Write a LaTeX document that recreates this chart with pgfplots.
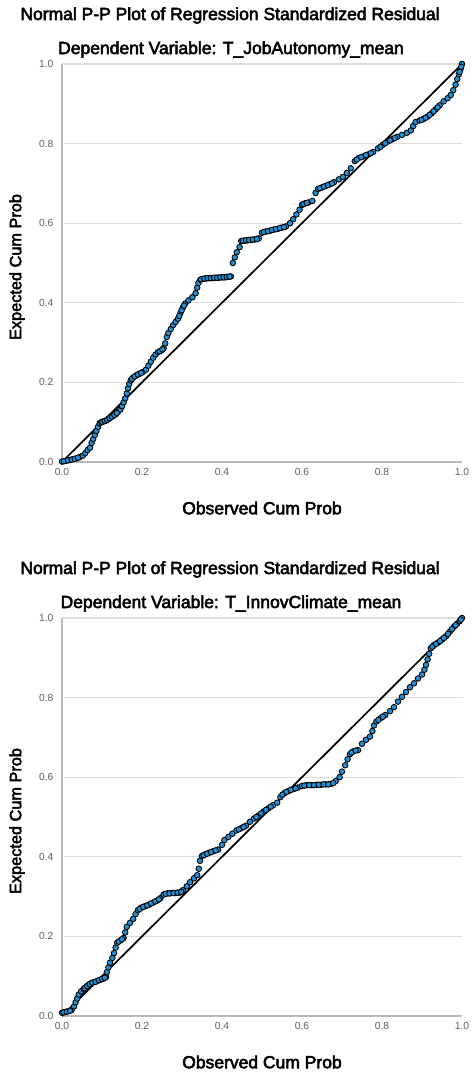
\documentclass[border=0pt]{standalone}
\usepackage{pgfplots}
\pgfplotsset{compat=1.18}
\usepackage{fontspec}
\setmainfont{Liberation Sans}
\newfontfamily\heavy[FakeBold=3]{Liberation Sans}
\definecolor{ptblue}{RGB}{34,144,214}
\definecolor{axgray}{RGB}{185,185,185}
\definecolor{gridgray}{RGB}{220,220,220}
\definecolor{tickgray}{RGB}{95,95,95}

\pgfplotstableread{
x y
0.000 0.001
0.010 0.003
0.020 0.005
0.028 0.007
0.036 0.009
0.044 0.012
0.052 0.016
0.058 0.022
0.064 0.030
0.070 0.036
0.074 0.048
0.078 0.058
0.082 0.068
0.086 0.078
0.090 0.088
0.094 0.097
0.098 0.100
0.104 0.102
0.110 0.104
0.116 0.108
0.122 0.112
0.128 0.116
0.134 0.120
0.140 0.126
0.146 0.132
0.150 0.140
0.154 0.150
0.158 0.160
0.162 0.172
0.165 0.185
0.168 0.196
0.172 0.205
0.178 0.212
0.186 0.218
0.194 0.222
0.202 0.226
0.210 0.232
0.216 0.242
0.222 0.252
0.228 0.262
0.234 0.270
0.240 0.276
0.248 0.280
0.254 0.286
0.258 0.298
0.262 0.314
0.266 0.324
0.272 0.334
0.278 0.344
0.284 0.352
0.290 0.360
0.296 0.374
0.302 0.388
0.308 0.398
0.316 0.406
0.326 0.414
0.334 0.424
0.338 0.438
0.341 0.450
0.346 0.458
0.352 0.460
0.360 0.461
0.368 0.462
0.376 0.462
0.384 0.463
0.392 0.463
0.400 0.464
0.408 0.464
0.416 0.465
0.422 0.466
0.427 0.500
0.432 0.514
0.437 0.527
0.444 0.540
0.448 0.555
0.456 0.556
0.464 0.557
0.472 0.558
0.482 0.559
0.492 0.562
0.500 0.576
0.510 0.579
0.520 0.581
0.530 0.584
0.540 0.586
0.550 0.589
0.560 0.592
0.570 0.600
0.578 0.610
0.586 0.622
0.594 0.634
0.600 0.646
0.608 0.650
0.616 0.652
0.626 0.656
0.634 0.676
0.640 0.686
0.650 0.690
0.660 0.694
0.670 0.698
0.680 0.703
0.692 0.710
0.702 0.716
0.712 0.726
0.722 0.738
0.732 0.756
0.742 0.764
0.754 0.768
0.766 0.773
0.778 0.779
0.790 0.788
0.802 0.797
0.814 0.805
0.826 0.811
0.838 0.817
0.850 0.822
0.862 0.827
0.872 0.833
0.878 0.844
0.884 0.854
0.894 0.858
0.904 0.862
0.914 0.868
0.924 0.876
0.934 0.886
0.944 0.896
0.954 0.906
0.964 0.914
0.972 0.922
0.978 0.934
0.984 0.948
0.988 0.962
0.992 0.974
0.996 0.986
1.000 1.000
0.005 0.002
0.015 0.004
0.024 0.006
0.032 0.008
0.040 0.011
0.101 0.101
0.107 0.103
0.113 0.106
0.119 0.110
0.125 0.114
0.131 0.118
0.137 0.123
0.175 0.209
0.182 0.215
0.190 0.220
0.198 0.224
0.244 0.278
0.251 0.283
0.293 0.367
0.299 0.381
0.305 0.393
0.348 0.459
0.356 0.461
0.364 0.462
0.372 0.462
0.380 0.463
0.388 0.463
0.396 0.464
0.404 0.464
0.412 0.465
0.419 0.466
0.452 0.556
0.460 0.557
0.468 0.558
0.477 0.559
0.487 0.560
0.505 0.578
0.515 0.580
0.525 0.583
0.535 0.585
0.545 0.588
0.555 0.590
0.604 0.648
0.612 0.651
0.645 0.688
0.655 0.692
0.665 0.696
0.675 0.700
0.737 0.760
0.748 0.766
0.760 0.771
0.772 0.776
0.796 0.792
0.808 0.801
0.820 0.808
0.832 0.814
0.899 0.860
0.909 0.865
0.919 0.872
0.929 0.881
0.939 0.891
0.994 0.980
0.998 0.993
}\dataA

\pgfplotstableread{
x y
0.000 0.008
0.008 0.010
0.016 0.012
0.024 0.015
0.030 0.024
0.034 0.034
0.038 0.044
0.042 0.054
0.048 0.062
0.054 0.068
0.060 0.073
0.066 0.078
0.072 0.082
0.080 0.085
0.088 0.088
0.096 0.091
0.104 0.094
0.110 0.098
0.112 0.110
0.116 0.122
0.120 0.134
0.126 0.146
0.130 0.158
0.134 0.172
0.138 0.184
0.146 0.190
0.154 0.196
0.158 0.210
0.162 0.224
0.170 0.234
0.178 0.244
0.184 0.256
0.190 0.266
0.198 0.272
0.208 0.276
0.218 0.280
0.228 0.285
0.238 0.290
0.246 0.296
0.254 0.305
0.264 0.308
0.274 0.309
0.284 0.309
0.294 0.310
0.302 0.316
0.312 0.326
0.320 0.336
0.330 0.346
0.338 0.354
0.342 0.370
0.345 0.390
0.350 0.402
0.358 0.406
0.368 0.410
0.378 0.414
0.390 0.418
0.400 0.430
0.406 0.442
0.416 0.450
0.426 0.458
0.436 0.466
0.448 0.472
0.460 0.478
0.470 0.488
0.480 0.496
0.492 0.504
0.504 0.514
0.516 0.522
0.528 0.530
0.538 0.536
0.546 0.550
0.556 0.560
0.566 0.565
0.578 0.570
0.590 0.574
0.600 0.578
0.612 0.580
0.624 0.580
0.636 0.581
0.648 0.581
0.660 0.582
0.672 0.583
0.684 0.590
0.694 0.600
0.700 0.614
0.708 0.630
0.714 0.645
0.720 0.658
0.728 0.665
0.740 0.668
0.750 0.684
0.760 0.694
0.770 0.702
0.776 0.716
0.780 0.730
0.786 0.740
0.796 0.748
0.808 0.756
0.820 0.766
0.830 0.776
0.840 0.790
0.850 0.802
0.860 0.814
0.870 0.826
0.880 0.836
0.890 0.848
0.900 0.858
0.906 0.870
0.910 0.882
0.914 0.896
0.918 0.910
0.922 0.924
0.930 0.932
0.940 0.938
0.950 0.946
0.960 0.954
0.970 0.966
0.980 0.978
0.988 0.986
0.994 0.992
1.000 1.000
0.004 0.009
0.012 0.011
0.020 0.013
0.057 0.070
0.063 0.075
0.069 0.080
0.076 0.084
0.084 0.086
0.092 0.090
0.100 0.093
0.107 0.096
0.142 0.187
0.150 0.193
0.194 0.269
0.203 0.274
0.213 0.278
0.223 0.283
0.233 0.288
0.242 0.293
0.259 0.307
0.269 0.308
0.279 0.309
0.289 0.310
0.298 0.312
0.354 0.404
0.363 0.408
0.373 0.412
0.384 0.416
0.442 0.469
0.454 0.475
0.486 0.500
0.498 0.509
0.510 0.518
0.522 0.526
0.551 0.556
0.561 0.563
0.572 0.568
0.584 0.572
0.606 0.579
0.618 0.580
0.630 0.580
0.642 0.581
0.654 0.582
0.666 0.582
0.678 0.585
0.724 0.662
0.734 0.667
0.791 0.744
0.802 0.752
0.926 0.928
0.935 0.935
0.945 0.942
0.955 0.950
0.965 0.960
0.975 0.972
0.984 0.982
0.997 0.996
}\dataB

\pgfplotsset{
  ppstyle/.style={
    scale only axis, width=400pt, height=398pt,
    xmin=0, xmax=1, ymin=0, ymax=1,
    clip=false,
    axis x line*=bottom, axis y line*=left,
    axis line style={draw=axgray, line width=1.2pt, -},
    xtick={0,0.2,...,1.0}, ytick={0,0.2,...,1.0},
    ymajorgrids, grid style={gridgray, line width=1.2pt},
    major tick length=0pt,
    tick label style={font=\fontsize{10.3}{11}\selectfont, text=tickgray},
    xticklabel style={yshift=-3pt},
    yticklabel style={xshift=-5pt},
    /pgf/number format/.cd, fixed, fixed zerofill, precision=1, assume math mode=true,
    /pgfplots/.cd,
    xlabel={Observed Cum Prob},
    ylabel={Expected Cum Prob},
    every axis x label/.style={at={(axis description cs:0.5,-0.1156)}, anchor=center, font=\heavy\fontsize{17.5}{18}\selectfont},
    every axis y label/.style={at={(axis description cs:-0.1125,0.49)}, anchor=center, rotate=90, font=\heavy\fontsize{16.3}{17}\selectfont},
  },
  ppmarks/.style={only marks, mark=*, mark size=2.8pt, mark options={fill=ptblue, draw=black, line width=0.85pt}},
}

\begin{document}
\begin{tikzpicture}[x=1pt,y=1pt]
\useasboundingbox (0,0) rectangle (473,1074);
\begin{axis}[ppstyle, at={(62pt,612pt)}, anchor=origin]
  \addplot[black, line width=1.7pt] coordinates {(0,0) (1,1)};
  \addplot[ppmarks] table[x=x,y=y] {\dataA};
  \node[font=\heavy\fontsize{17.5}{18}\selectfont] at (axis description cs:0.42,1.1219) {Normal P-P Plot of Regression Standardized Residual};
  \node[font=\heavy\fontsize{17.5}{18}\selectfont] at (axis description cs:0.4225,1.0364) {Dependent Variable: T\_JobAutonomy\_mean};
\end{axis}
\begin{axis}[ppstyle, at={(62pt,58pt)}, anchor=origin]
  \addplot[black, line width=1.7pt] coordinates {(0,0) (1,1)};
  \addplot[ppmarks] table[x=x,y=y] {\dataB};
  \node[font=\heavy\fontsize{17.5}{18}\selectfont] at (axis description cs:0.42,1.1219) {Normal P-P Plot of Regression Standardized Residual};
  \node[font=\heavy\fontsize{17.5}{18}\selectfont] at (axis description cs:0.4225,1.0364) {Dependent Variable: T\_InnovClimate\_mean};
\end{axis}
\end{tikzpicture}
\end{document}
